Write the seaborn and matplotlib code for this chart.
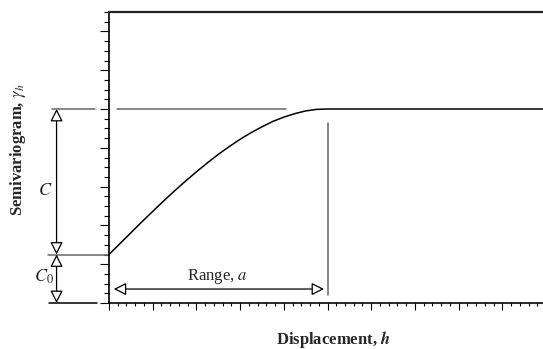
import matplotlib
matplotlib.use("Agg")
import matplotlib.pyplot as plt
import seaborn as sns
import pandas as pd

# Data
h_vals = [0.0, 0.25, 0.5, 0.75, 1.0, 1.25, 1.5, 1.75, 2.0, 2.25, 2.5, 2.75,
          3.0, 3.25, 3.5, 3.75, 4.0, 4.25, 4.5, 4.75, 5.0, 10.0]
gamma_vals = [1.25, 1.53, 1.81, 2.09, 2.36, 2.63, 2.89, 3.14, 3.38, 3.61, 3.83,
              4.03, 4.22, 4.39, 4.54, 4.68, 4.79, 4.88, 4.95, 4.99, 5.0, 5.0]
nugget = 1.25
sill = 5.0
range_a = 5.0
x_max = 10.0
y_max = 7.5

sns.set_style("ticks")
plt.rcParams['font.family'] = ['Liberation Serif', 'DejaVu Serif']
plt.rcParams['mathtext.fontset'] = 'stix'

fig = plt.figure(figsize=(5.43, 3.49), dpi=100)
ax = fig.add_axes([109/543, 46/349, 437/543, 291/349])

df = pd.DataFrame({"h": h_vals, "gamma": gamma_vals})
sns.lineplot(data=df, x="h", y="gamma", ax=ax, color="black", lw=1.1)

ax.set_xlim(0, x_max)
ax.set_ylim(0, y_max)
ax.set_xlabel("")
ax.set_ylabel("")
ax.set_xticks(range(0, 11))
ax.set_xticks([i * 0.2 for i in range(0, 51)], minor=True)
ax.set_yticks(range(0, 8))
ax.set_yticks([i * 0.25 for i in range(0, 31)], minor=True)
ax.set_xticklabels([])
ax.set_yticklabels([])
ax.tick_params(axis='x', which='major', direction='out', length=5, width=0.8, color='black')
ax.tick_params(axis='x', which='minor', direction='out', length=2.5, width=0.8, color='black')
ax.tick_params(axis='y', which='major', direction='out', length=6.5, width=0.8, color='black')
ax.tick_params(axis='y', which='minor', direction='out', length=3.5, width=0.8, color='black')
for s in ['left', 'bottom']:
    ax.spines[s].set_linewidth(1.2)
    ax.spines[s].set_color('black')
ax.spines['top'].set_linewidth(1.6)
ax.spines['top'].set_color('#222222')
ax.spines['right'].set_visible(False)

grey = '#666666'
# sill guide inside axes
ax.plot([0.18, 4.05], [sill, sill], color=grey, lw=1.1)
# range vertical line
ax.plot([range_a, range_a], [0.2, 4.65], color=grey, lw=1.1)
# guide lines outside axes
ax.plot([-1.30, -0.32], [sill, sill], color=grey, lw=1.1, clip_on=False)
ax.plot([-1.40, 0], [nugget, nugget], color=grey, lw=1.1, clip_on=False)
ax.plot([-1.37, -0.27], [0, 0], color='black', lw=1.1, clip_on=False)

arrow_kw = dict(arrowstyle='<|-|>,head_length=0.75,head_width=0.38',
                fc='white', ec='black', lw=0.9, shrinkA=0, shrinkB=0,
                mutation_scale=10)
xa = -1.2
ax.annotate('', xy=(xa, sill), xytext=(xa, nugget), arrowprops=arrow_kw,
            annotation_clip=False)
ax.annotate('', xy=(xa, nugget), xytext=(xa, 0), arrowprops=arrow_kw,
            annotation_clip=False)
ax.annotate('', xy=(0.11, 0.36), xytext=(4.92, 0.36), arrowprops=arrow_kw,
            annotation_clip=False)

ax.text(-1.46, 2.9, r'$C$', fontsize=13, ha='center', va='center', clip_on=False)
ax.text(-1.5, 0.67, r'$C_0$', fontsize=13, ha='center', va='center', clip_on=False)
ax.text(2.47, 0.69, r'Range, $a$', fontsize=12, ha='center', va='center')

fig.text(18/543, 1 - 150/349, r'Semivariogram, $\gamma_h$', rotation=90,
         fontsize=12, fontweight='bold', ha='center', va='center')
fig.text(333/543, 1 - 340/349, r'Displacement, $\mathbfit{h}$',
         fontsize=12, fontweight='bold', ha='center', va='center')

fig.savefig('out.png', dpi=100)
